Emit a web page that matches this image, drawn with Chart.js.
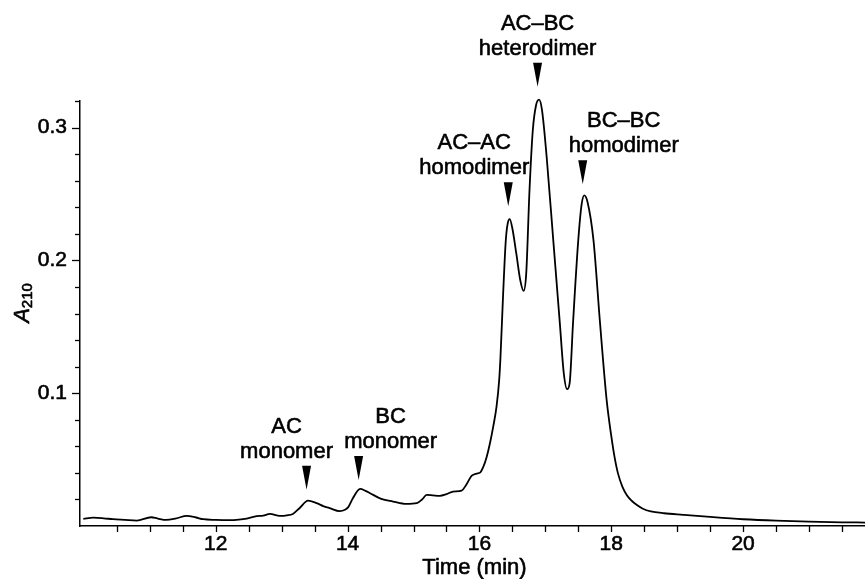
<!DOCTYPE html>
<html><head><meta charset="utf-8">
<script src="https://cdn.jsdelivr.net/npm/chart.js@4.4.0/dist/chart.umd.min.js"></script>
<style>html,body{margin:0;padding:0;background:#fff}#wrap{width:865px;height:579px;position:relative}</style>
</head><body><div id="wrap"><canvas id="c"></canvas></div>
<script>
// ---- data ----
const timeMin = [
 9.99,10.14,10.30,10.44,10.62,10.80,11.02,11.12,11.25,11.40,11.56,11.70,11.81,12.00,12.21,12.35,12.47,12.62,12.72,12.82,
 12.97,13.08,13.17,13.27,13.40,13.53,13.63,13.73,13.88,13.96,14.01,14.08,14.19,14.27,14.34,14.51,14.69,14.89,15.05,15.13,
 15.20,15.30,15.40,15.50,15.60,15.73,15.80,15.88,15.96,16.01,16.06,16.11,16.16,16.21,16.26,16.30,16.32,16.36,16.40,16.43,
 16.46,16.50,16.56,16.62,16.67,16.71,16.76,16.81,16.86,16.905,16.95,17.02,17.12,17.22,17.28,17.33,17.37,17.42,17.50,17.55,
 17.59,17.64,17.73,17.83,17.93,18.00,18.05,18.10,18.17,18.24,18.31,18.39,18.48,18.60,18.80,19.09,19.50,20.00,20.50,21.00,21.50,21.85
];
const absorbance = [
 0.0054,0.0063,0.0058,0.0051,0.0046,0.0041,0.0066,0.0056,0.0046,0.0058,0.0076,0.0064,0.0051,0.0046,0.0044,0.0048,0.0056,0.0074,0.0078,0.0091,
 0.0076,0.0080,0.0091,0.0134,0.0191,0.0172,0.0150,0.0134,0.0112,0.0122,0.0142,0.0209,0.0279,0.0265,0.0247,0.0204,0.0184,0.0166,0.0172,0.0200,
 0.0234,0.0230,0.0227,0.0240,0.0259,0.0267,0.0310,0.0377,0.0395,0.0402,0.0447,0.0520,0.0623,0.0750,0.0900,0.1100,0.1276,0.1750,0.2150,0.2280,
 0.2310,0.2240,0.2050,0.1850,0.1770,0.1900,0.2530,0.2980,0.3170,0.3210,0.3130,0.2780,0.2154,0.1527,0.1150,0.1030,0.1080,0.1527,0.2154,0.2420,
 0.2490,0.2440,0.2154,0.1527,0.0950,0.0680,0.0520,0.0400,0.0295,0.0230,0.0190,0.0158,0.0130,0.0110,0.0096,0.0084,0.0068,0.0051,0.0040,0.0033,0.0028,0.0026
];
const xTickLabels = [12, 14, 16, 18, 20];
const yTickLabels = [0.1, 0.2, 0.3];
const peakLabels = [['AC','monomer'],['BC','monomer'],['AC–AC','homodimer'],['AC–BC','heterodimer'],['BC–BC','homodimer']];
const peakTimes  = [13.40, 14.19, 16.46, 16.905, 17.59];
const peakValues = [0.0191, 0.0279, 0.2310, 0.3210, 0.2490];
const xTitle = 'Time (min)';
const yTitleMain = 'A';
const yTitleSub = '210';

// ---- styling ----
const FONT = '"Liberation Sans", Arial, Helvetica, sans-serif';
const labelDx = [-20, 32, -34, 0, 41];
const arrowGap = [11, 9, 13, 13, 11];

const xTickVals = []; for (let i = 21; i <= 43; i++) xTickVals.push(i * 0.5);
const yTickVals = []; for (let i = 1; i <= 16; i++) yTickVals.push(Number((i * 0.02).toFixed(2)));

function heavyText(ctx, s, x, y) {
  ctx.fillText(s, x, y);
  ctx.strokeText(s, x, y);
}

const decorPlugin = {
  id: 'decor',
  afterDraw(chart) {
    const ctx = chart.ctx, xs = chart.scales.x, ys = chart.scales.y, ca = chart.chartArea;
    ctx.save();
    ctx.strokeStyle = '#000'; ctx.lineWidth = 1.3;
    yTickVals.forEach(v => {
      const y = Math.round(ys.getPixelForValue(v)) + 0.5;
      const major = yTickLabels.some(l => Math.abs(l - v) < 1e-9);
      ctx.beginPath(); ctx.moveTo(ca.left - (major ? 8 : 5), y); ctx.lineTo(ca.left, y); ctx.stroke();
    });
    xTickVals.forEach(v => {
      const x = Math.round(xs.getPixelForValue(v)) + 0.5;
      ctx.beginPath(); ctx.moveTo(x, ca.bottom); ctx.lineTo(x, ca.bottom + 6); ctx.stroke();
    });
    ctx.fillStyle = '#000';
    ctx.lineWidth = 0.6; ctx.lineJoin = 'round';
    ctx.font = '22px ' + FONT;
    ctx.textAlign = 'center'; ctx.textBaseline = 'alphabetic';
    heavyText(ctx, xTitle, (ca.left + ca.right) / 2 + 2, 574);
    // y title
    ctx.save();
    ctx.translate(28.5, 303);
    ctx.rotate(-Math.PI / 2);
    ctx.font = 'italic 22px ' + FONT;
    const wA = ctx.measureText(yTitleMain).width;
    ctx.font = '15px ' + FONT;
    const wS = ctx.measureText(yTitleSub).width;
    const start = -(wA + wS) / 2;
    ctx.textAlign = 'left';
    ctx.font = 'italic 22px ' + FONT;
    heavyText(ctx, yTitleMain, start, 0);
    ctx.font = '15px ' + FONT;
    heavyText(ctx, yTitleSub, start + wA, 3.5);
    ctx.restore();
    // peak annotations
    peakTimes.forEach((t, i) => {
      const px = xs.getPixelForValue(t) - 1.5;
      const py = ys.getPixelForValue(peakValues[i]);
      const tip = py - arrowGap[i];
      const top = tip - 24;
      ctx.beginPath();
      ctx.moveTo(px - 4.5, top); ctx.lineTo(px + 4.5, top); ctx.lineTo(px, tip); ctx.closePath();
      ctx.fill();
      ctx.font = '22px ' + FONT;
      ctx.textAlign = 'center'; ctx.textBaseline = 'middle';
      const l2 = top - 14, l1 = l2 - 25;
      heavyText(ctx, peakLabels[i][0], px + labelDx[i], l1);
      heavyText(ctx, peakLabels[i][1], px + labelDx[i], l2);
    });
    ctx.restore();
  }
};

new Chart(document.getElementById('c'), {
  type: 'line',
  data: {
    datasets: [{
      data: timeMin.map((t, i) => ({ x: t, y: absorbance[i] })),
      borderColor: '#000', borderWidth: 1.8, pointRadius: 0,
      cubicInterpolationMode: 'monotone', fill: false, clip: false
    }]
  },
  options: {
    responsive: true, maintainAspectRatio: false, animation: false,
    layout: { padding: { top: 101, right: 0, left: 0, bottom: 0 } },
    plugins: { legend: { display: false }, tooltip: { enabled: false } },
    scales: {
      x: {
        type: 'linear', min: 9.94, max: 21.85,
        afterBuildTicks: s => { s.ticks = xTickVals.map(v => ({ value: v })); },
        afterFit: s => { s.height = 53; },
        grid: { display: true, drawOnChartArea: false, drawTicks: false },
        border: { display: true, color: '#000', width: 1.5 },
        ticks: {
          padding: 6, color: '#000', maxRotation: 0, autoSkip: false,
          textStrokeColor: '#000', textStrokeWidth: 0.6,
          font: { family: FONT, size: 21 },
          callback: v => xTickLabels.some(l => Math.abs(l - v) < 1e-9) ? String(Math.round(v)) : ''
        }
      },
      y: {
        type: 'linear', min: 0, max: 0.32,
        afterBuildTicks: s => { s.ticks = yTickVals.map(v => ({ value: v })); },
        afterFit: s => { s.width = 80; },
        grid: { display: true, drawOnChartArea: false, drawTicks: false },
        border: { display: true, color: '#000', width: 1.5 },
        ticks: {
          padding: 13, color: '#000', autoSkip: false,
          textStrokeColor: '#000', textStrokeWidth: 0.6,
          font: { family: FONT, size: 21 },
          callback: v => yTickLabels.some(l => Math.abs(l - v) < 1e-9) ? v.toFixed(1) : ''
        }
      }
    }
  },
  plugins: [decorPlugin]
});
</script>
</body></html>
